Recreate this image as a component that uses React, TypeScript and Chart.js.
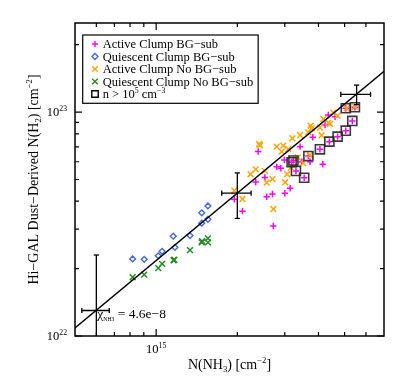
import React, { useEffect, useRef } from 'react';
import { Chart, registerables } from 'chart.js';

Chart.register(...registerables);

// Units: N(NH3) in 1e15 cm^-2, N(H2) in 1e22 cm^-2
const UX = 1e15;
const UY = 1e22;

const activeBgNh3 = [1.95, 2.09, 2.34, 2.39, 2.53, 2.57, 2.70, 2.72, 2.80, 2.90, 3.00, 3.14, 2.99, 3.18, 3.30, 3.42, 3.47, 3.54, 3.72, 3.81, 4.05, 4.15, 4.23, 4.39, 4.35, 4.61, 4.71, 5.05, 5.34, 5.05, 5.46, 3.67, 3.23];
const activeBgNh2 = [4.08, 3.61, 4.87, 6.66, 5.11, 4.19, 4.31, 3.10, 5.70, 5.61, 4.34, 4.57, 6.11, 5.97, 5.46, 7.01, 6.00, 5.09, 6.00, 7.72, 6.82, 5.85, 8.76, 7.38, 9.70, 9.54, 7.77, 8.26, 9.13, 10.40, 10.51, 6.37, 6.08];

const quiescentBgNh3 = [0.818, 0.903, 1.018, 1.052, 1.157, 1.174, 1.335, 1.476, 1.476, 1.556, 1.556];
const quiescentBgNh2 = [2.21, 2.20, 2.28, 2.39, 2.79, 2.49, 2.81, 3.19, 3.55, 3.81, 3.32];

const activeNoBgNh3 = [1.95, 2.09, 2.24, 2.34, 2.41, 2.43, 2.53, 2.57, 2.70, 2.72, 2.80, 2.92, 2.96, 3.01, 3.09, 3.20, 3.42, 3.35, 3.67, 3.77, 4.05, 4.11, 4.17, 4.35, 4.41, 4.54, 4.71, 5.09, 5.46, 3.72, 3.51, 3.06, 3.16, 3.74];
const activeNoBgNh2 = [4.46, 4.09, 5.28, 5.55, 7.20, 7.11, 5.46, 4.84, 5.02, 3.69, 7.01, 6.66, 7.08, 4.86, 6.84, 7.64, 7.90, 6.28, 8.12, 8.47, 8.52, 7.88, 9.32, 8.97, 8.85, 9.94, 9.64, 10.40, 10.57, 6.43, 5.91, 5.28, 5.65, 8.70];

const quiescentNoBgNh3 = [0.818, 0.903, 1.018, 1.052, 1.160, 1.168, 1.335, 1.476, 1.480, 1.556, 1.556];
const quiescentNoBgNh2 = [1.83, 1.88, 2.01, 2.10, 2.18, 2.19, 2.42, 2.62, 2.65, 2.73, 2.62];

const denseNh3 = [3.18, 3.23, 3.30, 3.54, 3.67, 4.05, 4.39, 4.71, 5.05, 5.34, 5.05, 5.46];
const denseNh2 = [5.97, 6.08, 5.46, 5.09, 6.37, 6.82, 7.38, 7.77, 8.26, 9.13, 10.40, 10.51];

const fitNh3 = [0.5, 7.0];
const fitNh2 = [1.087, 15.22];

const errNh3 = [0.60, 2.0, 5.54];
const errNh2 = [1.30, 4.35, 12.0];
const errNh3Size = [0.07, 0.25, 0.70];
const errNh2Size = [1.0, 1.0, 1.2];

const legendLabels = [
  'Active Clump BG\u2212sub',
  'Quiescent Clump BG\u2212sub',
  'Active Clump No BG\u2212sub',
  'Quiescent Clump No BG\u2212sub',
  'n > 10^{5} cm^{\u22123}',
];

const xTicksMajor = [1e15];
const xTicksMinor = [6e14, 7e14, 8e14, 9e14, 2e15, 3e15, 4e15, 5e15, 6e15];
const yTicksMajor = [1e22, 1e23];
const yTicksMinor = [2e22, 3e22, 4e22, 5e22, 6e22, 7e22, 8e22, 9e22, 2e23];
const xTickLabels = ['10^{15}'];
const yTickLabels = ['10^{22}', '10^{23}'];

const xTitle = 'N(NH_{3}) [cm^{\u22122}]';
const yTitle = 'Hi\u2212GAL Dust\u2212Derived N(H_{2}) [cm^{\u22122}]';
const chiLabel = '\u03C7_{NH3} = 4.6e\u22128';
const chiPos = { x: 6.05e14, y: 1.2e22 };

const MAGENTA = '#ff00ff';
const BLUE = '#4169e1';
const ORANGE = '#ffa500';
const GREEN = '#228b22';
const BOXC = 'rgba(35,35,35,0.9)';

const FF = '"Liberation Serif", "Times New Roman", "DejaVu Serif", serif';

type Seg = { t: string; k: number };
function parseRich(s: string): Seg[] {
  const out: Seg[] = [];
  let i = 0;
  let buf = '';
  while (i < s.length) {
    const c = s[i];
    if ((c === '^' || c === '_') && s[i + 1] === '{') {
      if (buf) { out.push({ t: buf, k: 0 }); buf = ''; }
      const end = s.indexOf('}', i + 2);
      out.push({ t: s.slice(i + 2, end), k: c === '^' ? 1 : -1 });
      i = end + 1;
    } else {
      buf += c;
      i++;
    }
  }
  if (buf) out.push({ t: buf, k: 0 });
  return out;
}

function drawRich(ctx: CanvasRenderingContext2D, s: string, x: number, y: number, size: number, align: string, scale = 0.62, subScale?: number) {
  const segs = parseRich(s);
  const sz = (k: number) => (k === 0 ? size : k === 1 ? size * scale : size * (subScale ?? scale));
  let w = 0;
  for (const g of segs) {
    ctx.font = `${sz(g.k)}px ${FF}`;
    w += ctx.measureText(g.t).width;
  }
  let cx = align === 'left' ? x : align === 'center' ? x - w / 2 : x - w;
  ctx.textAlign = 'left';
  ctx.textBaseline = 'alphabetic';
  for (const g of segs) {
    ctx.font = `${sz(g.k)}px ${FF}`;
    const dy = g.k === 1 ? -size * 0.4 : g.k === -1 ? size * 0.22 : 0;
    ctx.fillText(g.t, cx, y + dy);
    cx += ctx.measureText(g.t).width;
  }
  return w;
}

function drawMarker(ctx: CanvasRenderingContext2D, style: string, x: number, y: number, color: string) {
  ctx.strokeStyle = color;
  ctx.lineWidth = 1.4;
  ctx.beginPath();
  if (style === 'cross') {
    ctx.moveTo(x - 3, y); ctx.lineTo(x + 3, y);
    ctx.moveTo(x, y - 3); ctx.lineTo(x, y + 3);
  } else if (style === 'crossRot') {
    ctx.moveTo(x - 2.8, y - 2.8); ctx.lineTo(x + 2.8, y + 2.8);
    ctx.moveTo(x - 2.8, y + 2.8); ctx.lineTo(x + 2.8, y - 2.8);
  } else if (style === 'rectRot') {
    ctx.moveTo(x, y - 3); ctx.lineTo(x + 3, y); ctx.lineTo(x, y + 3); ctx.lineTo(x - 3, y); ctx.closePath();
  } else {
    ctx.rect(x - 3.2, y - 3.2, 6.4, 6.4);
  }
  ctx.stroke();
}

const framePlugin = {
  id: 'idlFrame',
  afterDraw(chart: any) {
    const { ctx, chartArea: a, scales } = chart;
    const xs = scales.x;
    const ys = scales.y;
    ctx.save();
    ctx.strokeStyle = '#000';
    ctx.lineWidth = 1.2;
    ctx.beginPath();
    const xt = (v: number, len: number) => {
      const p = xs.getPixelForValue(v);
      ctx.moveTo(p, a.bottom); ctx.lineTo(p, a.bottom - len);
      ctx.moveTo(p, a.top); ctx.lineTo(p, a.top + len);
    };
    const yt = (v: number, len: number) => {
      const p = ys.getPixelForValue(v);
      ctx.moveTo(a.left, p); ctx.lineTo(a.left + len, p);
      ctx.moveTo(a.right, p); ctx.lineTo(a.right - len, p);
    };
    xTicksMajor.forEach((v) => xt(v, 7));
    xTicksMinor.forEach((v) => xt(v, 4));
    yTicksMajor.forEach((v) => yt(v, 7));
    yTicksMinor.forEach((v) => yt(v, 4));
    ctx.stroke();
    ctx.lineWidth = 1.5;
    ctx.strokeRect(a.left, a.top, a.right - a.left, a.bottom - a.top);

    ctx.fillStyle = '#000';
    xTicksMajor.forEach((v, i) => drawRich(ctx, xTickLabels[i], xs.getPixelForValue(v), a.bottom + 17.3, 12.5, 'center'));
    yTicksMajor.forEach((v, i) => drawRich(ctx, yTickLabels[i], a.left - 8, ys.getPixelForValue(v) + 4.2, 12.5, 'right'));

    drawRich(ctx, xTitle, (a.left + a.right) / 2, a.bottom + 33, 14, 'center');
    ctx.save();
    ctx.translate(a.left - 37, (a.top + a.bottom) / 2);
    ctx.rotate(-Math.PI / 2);
    drawRich(ctx, yTitle, 0, 0, 14, 'center');
    ctx.restore();

    drawRich(ctx, chiLabel, xs.getPixelForValue(chiPos.x), ys.getPixelForValue(chiPos.y), 13.5, 'left', 0.62, 0.42);

    // legend
    const ds = chart.data.datasets.slice(0, legendLabels.length);
    const lx = a.left + 7.7;
    const ly = a.top + 12;
    const rowH = 12.5;
    let maxW = 0;
    legendLabels.forEach((l) => {
      const segs = parseRich(l);
      let w = 0;
      segs.forEach((g) => { ctx.font = `${g.k ? 12.5 * 0.62 : 12.5}px ${FF}`; w += ctx.measureText(g.t).width; });
      maxW = Math.max(maxW, w);
    });
    const lw = 20 + maxW + 5;
    const lh = 9 + rowH * (legendLabels.length - 1) + 9.3;
    ctx.fillStyle = '#fff';
    ctx.fillRect(lx, ly, lw, lh);
    ctx.strokeStyle = '#000';
    ctx.lineWidth = 1.2;
    ctx.strokeRect(lx, ly, lw, lh);
    legendLabels.forEach((l, i) => {
      const cy = ly + 9 + i * rowH;
      const d = ds[i];
      drawMarker(ctx, d.pointStyle, lx + 12.3, cy, i === 4 ? '#000' : d.pointBorderColor);
      ctx.fillStyle = '#000';
      drawRich(ctx, l, lx + 20, cy + 4.2, 12.5, 'left');
    });
    ctx.restore();
  },
};

const pts = (xa: number[], ya: number[]) => xa.map((x, i) => ({ x: x * UX, y: ya[i] * UY }));

export default function App() {
  const ref = useRef<HTMLCanvasElement | null>(null);
  useEffect(() => {
    if (!ref.current) return;
    const errH: any[] = [];
    const errV: any[] = [];
    errNh3.forEach((x, i) => {
      const y = errNh2[i];
      errH.push({ x: (x - errNh3Size[i]) * UX, y: y * UY }, { x: (x + errNh3Size[i]) * UX, y: y * UY }, { x: x * UX, y: null });
      errV.push({ x: x * UX, y: (y - errNh2Size[i]) * UY }, { x: x * UX, y: (y + errNh2Size[i]) * UY }, { x: x * UX, y: null });
    });
    const chart = new Chart(ref.current, {
      type: 'scatter',
      data: {
        datasets: [
          { label: legendLabels[0], data: pts(activeBgNh3, activeBgNh2), pointStyle: 'cross', pointRadius: 3.2, pointBorderColor: MAGENTA, pointBorderWidth: 1.5, pointBackgroundColor: MAGENTA, order: 7 },
          { label: legendLabels[1], data: pts(quiescentBgNh3, quiescentBgNh2), pointStyle: 'rectRot', pointRadius: 2.9, pointBorderColor: BLUE, pointBorderWidth: 1.4, pointBackgroundColor: 'rgba(0,0,0,0)', order: 6 },
          { label: legendLabels[2], data: pts(activeNoBgNh3, activeNoBgNh2), pointStyle: 'crossRot', pointRadius: 4.1, pointBorderColor: ORANGE, pointBorderWidth: 1.5, pointBackgroundColor: ORANGE, order: 5 },
          { label: legendLabels[3], data: pts(quiescentNoBgNh3, quiescentNoBgNh2), pointStyle: 'crossRot', pointRadius: 4.1, pointBorderColor: GREEN, pointBorderWidth: 1.5, pointBackgroundColor: GREEN, order: 4 },
          { label: legendLabels[4], data: pts(denseNh3, denseNh2), pointStyle: 'rect', pointRadius: 6.4, pointBorderColor: BOXC, pointBorderWidth: 1.6, pointBackgroundColor: 'rgba(0,0,0,0)', order: 3 },
          { label: 'fit', data: pts(fitNh3, fitNh2), showLine: true, borderColor: '#000', borderWidth: 1.4, pointRadius: 0, clip: 0, order: 2 },
          { label: 'errH', data: errH, showLine: true, spanGaps: false, borderColor: '#000', borderWidth: 1.3, pointStyle: 'line', pointRotation: 90, pointRadius: 2.6, pointBorderColor: '#000', pointBorderWidth: 1.3, clip: 0, order: 1 },
          { label: 'errV', data: errV, showLine: true, spanGaps: false, borderColor: '#000', borderWidth: 1.3, pointStyle: 'line', pointRotation: 0, pointRadius: 2.6, pointBorderColor: '#000', pointBorderWidth: 1.3, clip: 0, order: 1 },
        ],
      } as any,
      options: {
        animation: false,
        responsive: false,
        events: [],
        layout: { padding: { left: 67, right: 15, top: 15, bottom: 40 } },
        scales: {
          x: { type: 'logarithmic', min: 5e14, max: 7e15, display: false },
          y: { type: 'logarithmic', min: 1e22, max: 2.5e23, display: false },
        },
        plugins: { legend: { display: false }, tooltip: { enabled: false } },
      } as any,
      plugins: [framePlugin as any],
    });
    return () => chart.destroy();
  }, []);
  return (
    <div style={{ width: 391, height: 368 }}>
      <canvas ref={ref} width={391} height={368} style={{ display: 'block' }} />
    </div>
  );
}
